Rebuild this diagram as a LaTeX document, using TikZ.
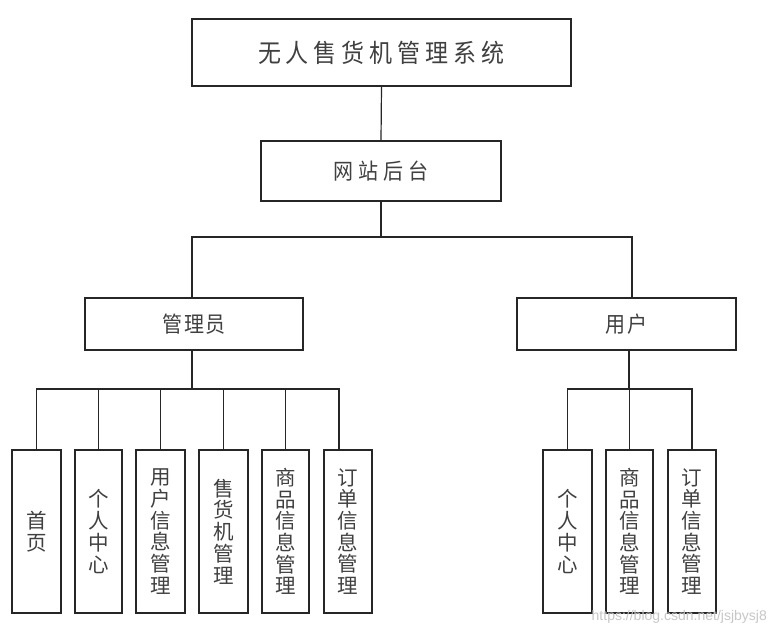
\documentclass[tikz,border=0pt]{standalone}
\usepackage{graphicx}
\usepackage{fontspec}
\newfontfamily\cjk{Noto Sans CJK SC}
\newfontfamily\wm{Liberation Sans}
\newcommand{\tallt}[1]{\scalebox{1}[1.1]{#1}}
\begin{document}
\begin{tikzpicture}[x=1pt,y=-1pt,
  every node/.style={text=black!75},
  boxst/.style={draw=black!85, line width=1.2pt, fill=white, inner sep=0pt, anchor=center},
  leaf/.style={boxst, minimum height=163pt, align=center,
    font=\cjk\fontsize{20.5}{21.7}\selectfont},
  conn/.style={draw=black!85, line width=1.2pt}]
\useasboundingbox (0,0) rectangle (777,634);
\fill[white] (0,0) rectangle (777,634);

% top levels
\node[boxst, minimum width=379pt, minimum height=67pt, font=\cjk\fontsize{23}{26}\selectfont] (top) at (381.5,52.5)
  {\tallt{无\hspace{5pt}人\hspace{5pt}售\hspace{5pt}货\hspace{5pt}机\hspace{5pt}管\hspace{5pt}理\hspace{5pt}系\hspace{5pt}统}};
\node[boxst, minimum width=240pt, minimum height=60pt, font=\cjk\fontsize{20}{23}\selectfont] (site) at (381,171)
  {\tallt{网\hspace{5pt}站\hspace{5pt}后\hspace{5pt}台}};
\node[boxst, minimum width=218pt, minimum height=52pt, font=\cjk\fontsize{20}{23}\selectfont] (adm) at (194,324)
  {\tallt{管\hspace{1.5pt}理\hspace{1.5pt}员}};
\node[boxst, minimum width=219pt, minimum height=52pt, font=\cjk\fontsize{20}{23}\selectfont] (usr) at (626.5,324)
  {\tallt{用\hspace{1.5pt}户}};

% admin leaves
\node[leaf, minimum width=49pt] (l1) at (36.5,531.5) {首\\页};
\node[leaf, minimum width=47pt] (l2) at (98.5,531.5) {个\\人\\中\\心};
\node[leaf, minimum width=49pt] (l3) at (160.5,531.5) {用\\户\\信\\息\\管\\理};
\node[leaf, minimum width=49pt] (l4) at (223.5,531.5) {售\\货\\机\\管\\理};
\node[leaf, minimum width=47pt] (l5) at (285.5,531.5) {商\\品\\信\\息\\管\\理};
\node[leaf, minimum width=48pt] (l6) at (348,531.5) {订\\单\\信\\息\\管\\理};

% user leaves
\node[leaf, minimum width=49pt] (u1) at (567.5,531.5) {个\\人\\中\\心};
\node[leaf, minimum width=47pt] (u2) at (629.5,531.5) {商\\品\\信\\息\\管\\理};
\node[leaf, minimum width=48pt] (u3) at (692,531.5) {订\\单\\信\\息\\管\\理};

% bus coordinates
\coordinate (b1) at (381,237);
\coordinate (b2) at (192,389);
\coordinate (b3) at (629,389);
\coordinate (l6n) at (339,450);
\coordinate (usn) at (632,298);

% connectors
\draw[conn] (top.south) -- (site.north);
\draw[conn] (site.south) -- (b1);
\draw[conn] (adm.north -| b2) -- (b2 |- b1) -- (usn |- b1) -- (usn);
\draw[conn] (adm.south -| b2) -- (b2);
\draw[conn] (l1.north) -- (l1.north |- b2) -- (l6n |- b2) -- (l6n);
\draw[conn] (l2.north) -- (l2.north |- b2);
\draw[conn] (l3.north) -- (l3.north |- b2);
\draw[conn] (l4.north) -- (l4.north |- b2);
\draw[conn] (l5.north) -- (l5.north |- b2);
\draw[conn] (usr.south -| b3) -- (b3);
\draw[conn] (u1.north) -- (u1.north |- b3) -- (u3.north |- b3) -- (u3.north);
\draw[conn] (u2.north) -- (u2.north |- b3);

% watermark
\node[anchor=east, text=black!22, font=\wm\fontsize{14}{16}\selectfont, inner sep=0pt] (wmk) at (767,617) {https://blog.csdn.net/jsjbysj8};
\end{tikzpicture}
\end{document}
